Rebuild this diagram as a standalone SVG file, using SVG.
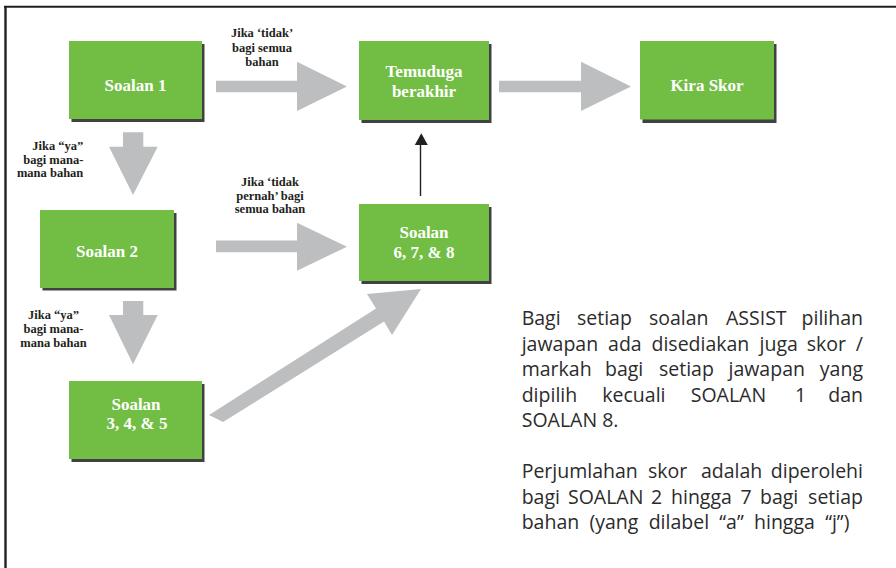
<svg xmlns="http://www.w3.org/2000/svg" width="896" height="568" viewBox="0 0 896 568">
<style>
.box{fill:#72be44}
.sh{fill:#414042}
.bt{font-family:"Liberation Serif","Times New Roman",serif;font-weight:bold;font-size:17px;fill:#ffffff;text-anchor:middle}
.lb{font-family:"Liberation Serif","Times New Roman",serif;font-weight:bold;font-size:12.5px;fill:#231f20}
.ga{fill:#bcbec0}
.note{font-family:"Open Sans","Noto Sans","DejaVu Sans",sans-serif;font-size:19.5px;fill:#2b2b2b}
.end{text-anchor:end}
</style>
<rect width="896" height="568" fill="#ffffff"/>
<g id="frame">
<line x1="4" y1="6.8" x2="896" y2="6.8" stroke="#231f20" stroke-width="2"/>
<line x1="5.5" y1="6" x2="5.5" y2="568" stroke="#231f20" stroke-width="2.4"/>
</g>
<g id="connectors">
<polygon class="ga" points="216,80.7 297,80.7 297,61.7 347,86.5 297,111 297,92.3 216,92.3"/>
<polygon class="ga" points="499,80.7 581,80.7 581,61.7 631,86.5 581,111 581,92.3 499,92.3"/>
<polygon class="ga" points="123,132.3 143.3,132.3 143.3,146.7 157.7,146.7 133,195 109,146.7 123,146.7"/>
<polygon class="ga" points="216,240.5 297,240.5 297,222.7 347,246.7 297,270.7 297,252.3 216,252.3"/>
<polygon class="ga" points="123,301 143.3,301 143.3,315 157.7,315 133,364.3 109,315 123,315"/>
<polygon class="ga" points="209,415 376,308.5 367,294 421,289 392,335 384,321.5 223,422"/>
<line x1="420.5" y1="196" x2="420.5" y2="144" stroke="#231f20" stroke-width="1.4"/>
<polygon points="414.8,145 427.8,145 421.3,133.3" fill="#231f20"/>
</g>
<g id="soalan1">
<rect class="sh" x="71.5" y="44" width="133" height="78"/>
<rect class="box" x="69" y="41" width="133" height="78"/>
<text class="bt" x="135.5" y="91">Soalan 1</text>
</g>
<g id="temuduga">
<rect class="sh" x="361.5" y="44" width="130" height="79"/>
<rect class="box" x="359" y="41" width="130" height="79"/>
<text class="bt" x="424" y="77.3">Temuduga</text>
<text class="bt" x="424" y="96.7">berakhir</text>
</g>
<g id="kiraskor">
<rect class="sh" x="642.5" y="44" width="134" height="79"/>
<rect class="box" x="640" y="41" width="134" height="78.5"/>
<text class="bt" x="707" y="91">Kira Skor</text>
</g>
<g id="soalan2">
<rect class="sh" x="42.5" y="213" width="134" height="77.5"/>
<rect class="box" x="40" y="210" width="134" height="78"/>
<text class="bt" x="107" y="257.3">Soalan 2</text>
</g>
<g id="soalan345">
<rect class="sh" x="71.5" y="384" width="133" height="78"/>
<rect class="box" x="69" y="381" width="133" height="78"/>
<text class="bt" x="136" y="410">Soalan</text>
<text class="bt" x="137" y="429.3">3, 4, &amp; 5</text>
</g>
<g id="soalan678">
<rect class="sh" x="361.5" y="207" width="130" height="77"/>
<rect class="box" x="359" y="204" width="130" height="77"/>
<text class="bt" x="424" y="237.7">Soalan</text>
<text class="bt" x="424" y="258">6, 7, &amp; 8</text>
</g>
<g id="labels">
<text class="lb" text-anchor="middle"><tspan x="262" y="37.3">Jika ‘tidak’</tspan><tspan x="262" y="51.7">bagi semua</tspan><tspan x="262" y="66">bahan</tspan></text>
<text class="lb" text-anchor="end"><tspan x="83.3" y="150">Jika “ya”</tspan><tspan x="83.3" y="163.5">bagi mana-</tspan><tspan x="83.3" y="177">mana bahan</tspan></text>
<text class="lb" text-anchor="middle"><tspan x="53.5" y="319.3">Jika “ya”</tspan><tspan x="53.5" y="333">bagi mana-</tspan><tspan x="53.5" y="346.7">mana bahan</tspan></text>
<text class="lb" text-anchor="middle"><tspan x="270" y="185.7">Jika ‘tidak</tspan><tspan x="270" y="199.5">pernah’ bagi</tspan><tspan x="270" y="213.3">semua bahan</tspan></text>
</g>
<g id="note">
<text class="note"><tspan x="521.7" y="325">Bagi</tspan><tspan x="577" y="325">setiap</tspan><tspan x="649" y="325">soalan</tspan><tspan x="726" y="325">ASSIST</tspan></text>
<text class="note end" x="863" y="325">pilihan</text>
<text class="note"><tspan x="521.7" y="350.5">jawapan</tspan><tspan x="608.1" y="350.5">ada</tspan><tspan x="651.5" y="350.5">disediakan</tspan><tspan x="759.5" y="350.5">juga</tspan><tspan x="806.7" y="350.5">skor</tspan></text>
<text class="note end" x="863" y="350.5">/</text>
<text class="note"><tspan x="521.7" y="376">markah</tspan><tspan x="605" y="376">bagi</tspan><tspan x="659" y="376">setiap</tspan><tspan x="728.5" y="376">jawapan</tspan></text>
<text class="note end" x="863" y="376">yang</text>
<text class="note"><tspan x="521.7" y="401.5">dipilih</tspan><tspan x="602.3" y="401.5">kecuali</tspan><tspan x="690.7" y="401.5">SOALAN</tspan><tspan x="795" y="401.5">1</tspan></text>
<text class="note end" x="863" y="401.5">dan</text>
<text class="note" x="521.7" y="427">SOALAN 8.</text>
<text class="note"><tspan x="521.7" y="478">Perjumlahan</tspan><tspan x="648" y="478">skor</tspan><tspan x="701" y="478">adalah</tspan></text>
<text class="note end" x="863" y="478">diperolehi</text>
<text class="note"><tspan x="521.7" y="503.5">bagi</tspan><tspan x="568" y="503.5">SOALAN</tspan><tspan x="651" y="503.5">2</tspan><tspan x="671" y="503.5">hingga</tspan><tspan x="740.5" y="503.5">7</tspan><tspan x="760" y="503.5">bagi</tspan></text>
<text class="note end" x="863" y="503.5">setiap</text>
<text class="note" x="521.7" y="529" word-spacing="5.2">bahan (yang dilabel “a” hingga “j”)</text>
</g>
</svg>
